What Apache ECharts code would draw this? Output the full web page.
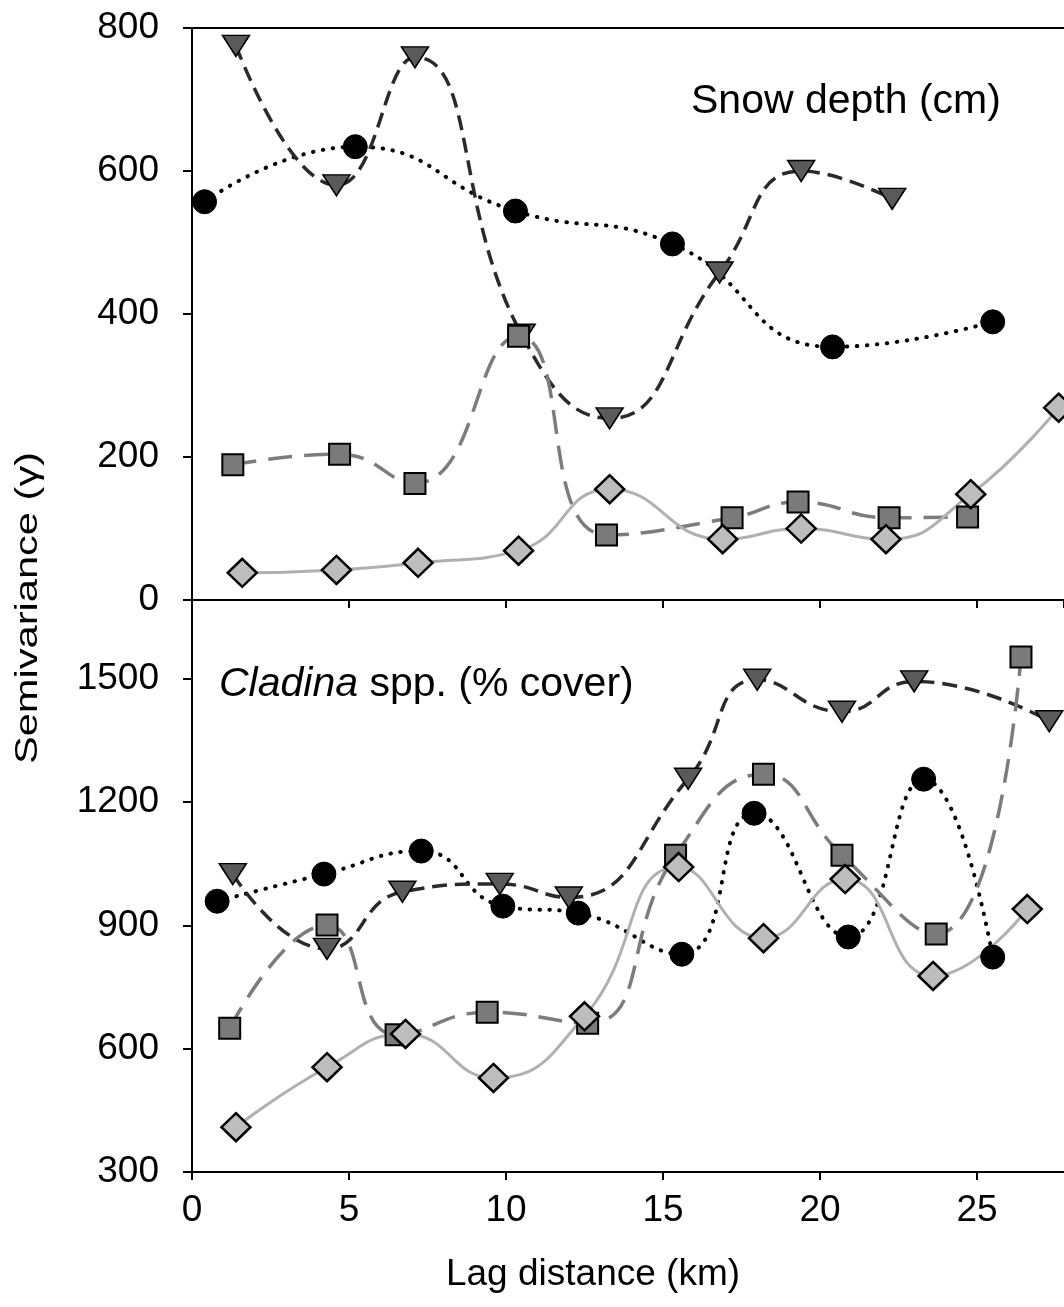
<!DOCTYPE html>
<html>
<head>
<meta charset="utf-8">
<script src="https://cdn.jsdelivr.net/npm/echarts@6/dist/echarts.min.js"></script>
<style>
html,body{margin:0;padding:0;background:#fff;}
#chart{width:1064px;height:1307px;}
</style>
</head>
<body>
<div id="chart"></div>
<script>
// ---- Data (lag distance km, semivariance) ----
// Top panel: Snow depth (cm)
var snowCircle   = [[0.4,557],[5.2,634],[10.3,544],[15.3,498],[20.4,354],[25.5,389]];
var snowTriangle = [[1.4,775],[4.6,580],[7.1,759],[10.5,371],[13.3,254],[16.8,458],[19.4,600],[22.3,561]];
var snowSquare   = [[1.3,189],[4.7,204],[7.1,163],[10.4,369],[13.2,91],[17.2,115],[19.3,137],[22.2,115],[24.7,116]];
var snowDiamond  = [[1.6,38],[4.6,42],[7.2,52],[10.4,69],[13.3,155],[16.9,85],[19.4,100],[22.1,85],[24.8,148],[27.6,269]];
// Bottom panel: Cladina spp. (% cover)
var cladCircle   = [[0.8,959],[4.2,1025],[7.3,1081],[9.9,947],[12.3,930],[15.6,830],[17.9,1173],[20.9,872],[23.3,1256],[25.5,823]];
var cladTriangle = [[1.3,1025],[4.3,843],[6.7,982],[9.8,1001],[12.0,968],[15.8,1257],[18.0,1498],[20.7,1420],[23.0,1494],[27.3,1397]];
var cladSquare   = [[1.2,650],[4.3,901],[6.5,634],[9.4,689],[12.6,662],[15.4,1071],[18.2,1268],[20.7,1071],[23.7,879],[26.4,1553]];
var cladDiamond  = [[1.4,409],[4.3,555],[6.8,636],[9.6,529],[12.5,679],[15.5,1042],[18.2,869],[20.8,1013],[23.6,777],[26.6,940]];
// Axis settings
var xTicks = [0,5,10,15,20,25];
var topYTicks = [0,200,400,600,800];
var botYTicks = [300,600,900,1200,1500];

var FONT = '"Liberation Sans", Arial, sans-serif';
var chart = echarts.init(document.getElementById('chart'), null, {renderer:'canvas'});

function circleSeries(data, gi){
  return {type:'line', xAxisIndex: gi===0?0:2, yAxisIndex: gi, data:data, smooth:0.5,
    symbol:'circle', symbolSize:24,
    itemStyle:{color:'#000', borderColor:'#000', borderWidth:1},
    lineStyle:{color:'#000', width:4, type:[0.5,9.5], cap:'round'}};
}
function triSeries(data, gi){
  return {type:'line', xAxisIndex: gi===0?0:2, yAxisIndex: gi, data:data, smooth:0.5,
    symbol:'triangle', symbolRotate:180, symbolSize:[27,21],
    itemStyle:{color:'#5a5a5a', borderColor:'#000', borderWidth:1.5},
    lineStyle:{color:'#2a2a2a', width:3.5, type:[15,8]}};
}
function sqSeries(data, gi){
  return {type:'line', xAxisIndex: gi===0?0:2, yAxisIndex: gi, data:data, smooth:0.5,
    symbol:'rect', symbolSize:21,
    itemStyle:{color:'#7a7a7a', borderColor:'#000', borderWidth:2},
    lineStyle:{color:'#7c7c7c', width:3.5, type:[24,12]}};
}
function diaSeries(data, gi){
  return {type:'line', xAxisIndex: gi===0?0:2, yAxisIndex: gi, data:data, smooth:0.5,
    symbol:'diamond', symbolSize:[29,28],
    itemStyle:{color:'#bdbdbd', borderColor:'#000', borderWidth:2.5},
    lineStyle:{color:'#b0b0b0', width:3, type:'solid'}};
}

var axisLine = {show:true, lineStyle:{color:'#000', width:2}};
var xMax = 27.77;

var option = {
  animation:false,
  backgroundColor:'#fff',
  grid:[
    {left:192, top:28, width:872, height:572, containLabel:false},
    {left:192, top:600, width:872, height:572, containLabel:false}
  ],
  title:[
    {text:'Snow depth (cm)', left:686, top:76,
      textStyle:{fontFamily:FONT, fontSize:41, fontWeight:'normal', color:'#000'}},
    {text:'{i|Cladina} spp. (% cover)', left:214, top:659,
      textStyle:{fontFamily:FONT, fontSize:41, fontWeight:'normal', color:'#000',
        rich:{i:{fontFamily:FONT, fontSize:41, fontStyle:'italic', color:'#000'}}}}
  ],
  xAxis:[
    {type:'value', gridIndex:0, min:0, max:xMax, interval:5, position:'bottom',
      axisLine:axisLine, axisTick:{show:true, inside:false, length:8, lineStyle:{color:'#000', width:2}},
      axisLabel:{show:false}, splitLine:{show:false}},
    {type:'value', gridIndex:0, min:0, max:xMax, interval:5, position:'top',
      axisLine:axisLine, axisTick:{show:false}, axisLabel:{show:false}, splitLine:{show:false}},
    {type:'value', gridIndex:1, min:0, max:xMax, interval:5, position:'bottom',
      axisLine:axisLine, axisTick:{show:true, inside:false, length:8, lineStyle:{color:'#000', width:2}},
      axisLabel:{show:true, showMaxLabel:false, margin:20, fontFamily:FONT, fontSize:37, color:'#000',
        formatter:function(v){ return xTicks.indexOf(v)>=0 ? String(v) : ''; }},
      splitLine:{show:false},
      name:'Lag distance (km)', nameLocation:'middle', nameGap:84,
      nameTextStyle:{fontFamily:FONT, fontSize:37, color:'#000', padding:[0,70,0,0]}}
  ],
  yAxis:[
    {type:'value', gridIndex:0, min:0, max:800, interval:200,
      axisLine:axisLine, axisTick:{show:true, inside:false, length:9, lineStyle:{color:'#000', width:2}},
      axisLabel:{margin:33, fontFamily:FONT, fontSize:37, color:'#000',
        formatter:function(v){ return topYTicks.indexOf(v)>=0 ? String(v) : ''; }},
      splitLine:{show:false}},
    {type:'value', gridIndex:1, min:300, max:1692, interval:300,
      axisLine:axisLine, axisTick:{show:true, inside:false, length:9, lineStyle:{color:'#000', width:2}},
      axisLabel:{margin:33, showMaxLabel:false, fontFamily:FONT, fontSize:37, color:'#000',
        formatter:function(v){ return botYTicks.indexOf(v)>=0 ? String(v) : ''; }},
      splitLine:{show:false}}
  ],
  graphic:[
    {type:'text', x:28, y:608, rotation:Math.PI/2, scaleX:1.3, scaleY:1,
      style:{text:'Semivariance (\u03b3)', font:'32px "Liberation Sans", Arial, sans-serif',
        fill:'#000', textAlign:'center', textVerticalAlign:'middle'}}
  ],
  series:[
    circleSeries(snowCircle,0), triSeries(snowTriangle,0), sqSeries(snowSquare,0), diaSeries(snowDiamond,0),
    circleSeries(cladCircle,1), triSeries(cladTriangle,1), sqSeries(cladSquare,1), diaSeries(cladDiamond,1)
  ]
};
chart.setOption(option);
</script>
</body>
</html>
